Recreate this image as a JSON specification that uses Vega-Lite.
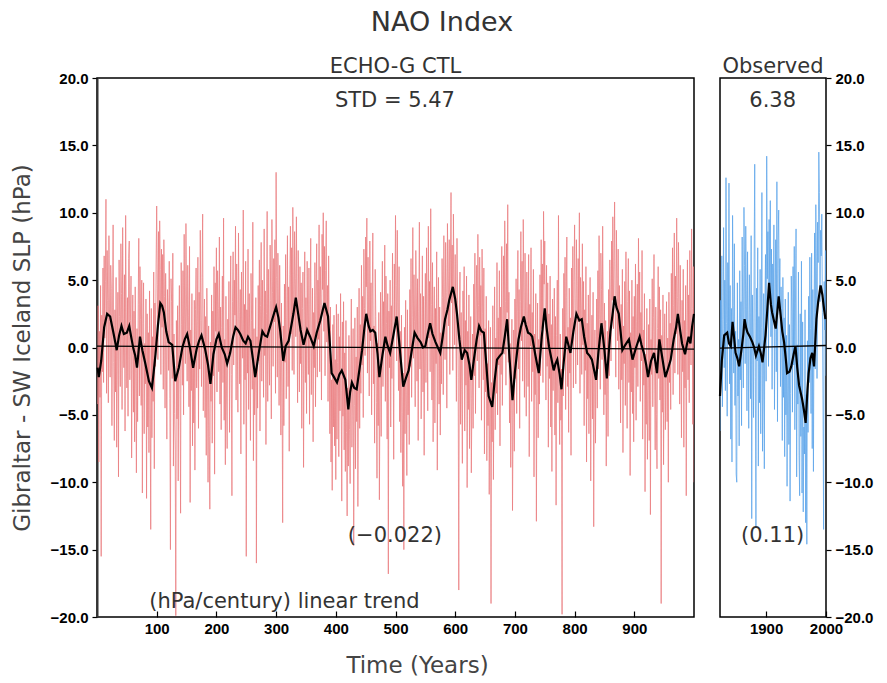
{
"$schema":"https://vega.github.io/schema/vega-lite/v6.json",
"background":"white",
"padding":{"left":10,"top":9,"right":5,"bottom":5},
"title":{"text":"NAO Index","fontSize":27,"offset":18,"anchor":"middle"},
"spacing":14,
"config":{"view":{"stroke":"black","strokeWidth":1.5},
"axis":{"grid":false,"labelFont":"Liberation Sans","labelFontWeight":"bold","labelFontSize":15,"labelColor":"black","tickColor":"black","tickWidth":1.2,"domain":false,"titleFont":"DejaVu Sans","titleFontWeight":"normal","titleFontSize":23,"titleColor":"#444"},
"title":{"font":"DejaVu Sans","fontWeight":"normal","color":"#333"}},
"datasets":{
"ctl":[{"t":1,"v":-4.2},{"t":2,"v":3.1},{"t":3,"v":-8.5},{"t":4,"v":1.2},{"t":5,"v":-3.7},{"t":6,"v":4.6},{"t":7,"v":-15.5},{"t":8,"v":2.4},{"t":9,"v":-1.8},{"t":10,"v":5.9},{"t":11,"v":-2.6},{"t":12,"v":6.8},{"t":13,"v":0.7},{"t":14,"v":4.9},{"t":15,"v":11.0},{"t":16,"v":-3.4},{"t":17,"v":7.2},{"t":18,"v":3.5},{"t":19,"v":-4.1},{"t":20,"v":8.3},{"t":21,"v":1.9},{"t":22,"v":-2.2},{"t":23,"v":6.1},{"t":24,"v":4.4},{"t":25,"v":-5.8},{"t":26,"v":3.0},{"t":27,"v":9.1},{"t":28,"v":-1.1},{"t":29,"v":-6.9},{"t":30,"v":2.8},{"t":31,"v":-3.3},{"t":32,"v":5.2},{"t":33,"v":-7.4},{"t":34,"v":0.4},{"t":35,"v":4.1},{"t":36,"v":-9.6},{"t":37,"v":6.5},{"t":38,"v":2.3},{"t":39,"v":-2.9},{"t":40,"v":7.7},{"t":41,"v":4.0},{"t":42,"v":-4.6},{"t":43,"v":8.9},{"t":44,"v":0.9},{"t":45,"v":-1.5},{"t":46,"v":5.4},{"t":47,"v":-6.2},{"t":48,"v":9.8},{"t":49,"v":1.6},{"t":50,"v":-3.0},
{"t":51,"v":3.7},{"t":52,"v":-5.1},{"t":53,"v":6.6},{"t":54,"v":7.9},{"t":55,"v":-2.4},{"t":56,"v":2.0},{"t":57,"v":5.3},{"t":58,"v":-8.2},{"t":59,"v":0.6},{"t":60,"v":3.9},{"t":61,"v":-4.8},{"t":62,"v":2.7},{"t":63,"v":-7.0},{"t":64,"v":4.5},{"t":65,"v":-1.9},{"t":66,"v":-9.3},{"t":67,"v":1.4},{"t":68,"v":-5.5},{"t":69,"v":3.2},{"t":70,"v":8.1},{"t":71,"v":-3.6},{"t":72,"v":6.0},{"t":73,"v":2.1},{"t":74,"v":-4.3},{"t":75,"v":5.0},{"t":76,"v":-10.8},{"t":77,"v":1.8},{"t":78,"v":4.8},{"t":79,"v":-6.4},{"t":80,"v":0.3},{"t":81,"v":-2.7},{"t":82,"v":3.6},{"t":83,"v":-11.2},{"t":84,"v":2.5},{"t":85,"v":-5.9},{"t":86,"v":1.1},{"t":87,"v":-7.8},{"t":88,"v":4.2},{"t":89,"v":-3.9},{"t":90,"v":-13.5},{"t":91,"v":2.9},{"t":92,"v":-6.7},{"t":93,"v":0.8},{"t":94,"v":-4.0},{"t":95,"v":5.6},{"t":96,"v":-9.0},{"t":97,"v":3.3},{"t":98,"v":-1.4},{"t":99,"v":6.2},{"t":100,"v":10.5},
{"t":101,"v":4.7},{"t":102,"v":-0.9},{"t":103,"v":8.6},{"t":104,"v":2.2},{"t":105,"v":9.4},{"t":106,"v":5.8},{"t":107,"v":-2.0},{"t":108,"v":7.3},{"t":109,"v":1.5},{"t":110,"v":6.9},{"t":111,"v":-3.1},{"t":112,"v":8.0},{"t":113,"v":3.8},{"t":114,"v":-4.5},{"t":115,"v":5.5},{"t":116,"v":0.2},{"t":117,"v":-6.8},{"t":118,"v":4.3},{"t":119,"v":2.6},{"t":120,"v":-1.7},{"t":121,"v":6.4},{"t":122,"v":-3.8},{"t":123,"v":-15.0},{"t":124,"v":5.1},{"t":125,"v":3.4},{"t":126,"v":-2.3},{"t":127,"v":7.0},{"t":128,"v":-8.8},{"t":129,"v":1.0},{"t":130,"v":-4.9},{"t":131,"v":-7.6},{"t":132,"v":-19.9},{"t":133,"v":2.0},{"t":134,"v":-5.3},{"t":135,"v":3.1},{"t":136,"v":-9.9},{"t":137,"v":0.5},{"t":138,"v":4.6},{"t":139,"v":-3.5},{"t":140,"v":-12.3},{"t":141,"v":6.3},{"t":142,"v":1.7},{"t":143,"v":-2.8},{"t":144,"v":5.7},{"t":145,"v":-5.0},{"t":146,"v":8.4},{"t":147,"v":0.9},{"t":148,"v":-1.2},{"t":149,"v":9.2},{"t":150,"v":3.0},
{"t":151,"v":-2.5},{"t":152,"v":6.1},{"t":153,"v":2.4},{"t":154,"v":-4.4},{"t":155,"v":7.5},{"t":156,"v":-11.5},{"t":157,"v":1.3},{"t":158,"v":-3.2},{"t":159,"v":4.0},{"t":160,"v":-7.3},{"t":161,"v":0.1},{"t":162,"v":-5.6},{"t":163,"v":3.5},{"t":164,"v":-9.1},{"t":165,"v":2.8},{"t":166,"v":5.9},{"t":167,"v":-3.0},{"t":168,"v":1.9},{"t":169,"v":6.7},{"t":170,"v":-6.0},{"t":171,"v":4.1},{"t":172,"v":-1.6},{"t":173,"v":8.7},{"t":174,"v":2.0},{"t":175,"v":-2.9},{"t":176,"v":5.2},{"t":177,"v":9.9},{"t":178,"v":-4.7},{"t":179,"v":0.7},{"t":180,"v":3.6},{"t":181,"v":-5.2},{"t":182,"v":2.3},{"t":183,"v":-8.0},{"t":184,"v":4.4},{"t":185,"v":-1.0},{"t":186,"v":-10.0},{"t":187,"v":1.6},{"t":188,"v":-6.6},{"t":189,"v":-12.0},{"t":190,"v":0.4},{"t":191,"v":-4.0},{"t":192,"v":3.9},{"t":193,"v":-7.1},{"t":194,"v":2.7},{"t":195,"v":-2.1},{"t":196,"v":6.0},{"t":197,"v":-9.4},{"t":198,"v":4.8},{"t":199,"v":1.2},{"t":200,"v":7.4},
{"t":201,"v":-3.3},{"t":202,"v":5.7},{"t":203,"v":2.9},{"t":204,"v":-1.8},{"t":205,"v":8.2},{"t":206,"v":-4.2},{"t":207,"v":3.0},{"t":208,"v":-6.1},{"t":209,"v":1.5},{"t":210,"v":5.3},{"t":211,"v":-2.6},{"t":212,"v":9.6},{"t":213,"v":-5.4},{"t":214,"v":0.6},{"t":215,"v":-8.7},{"t":216,"v":3.8},{"t":217,"v":-3.6},{"t":218,"v":-7.5},{"t":219,"v":2.1},{"t":220,"v":-0.5},{"t":221,"v":4.9},{"t":222,"v":-6.3},{"t":223,"v":1.0},{"t":224,"v":6.8},{"t":225,"v":-2.0},{"t":226,"v":-11.0},{"t":227,"v":3.4},{"t":228,"v":7.1},{"t":229,"v":-1.3},{"t":230,"v":5.0},{"t":231,"v":2.4},{"t":232,"v":9.0},{"t":233,"v":-3.9},{"t":234,"v":6.2},{"t":235,"v":0.9},{"t":236,"v":-4.8},{"t":237,"v":8.5},{"t":238,"v":2.6},{"t":239,"v":-2.7},{"t":240,"v":4.3},{"t":241,"v":-7.9},{"t":242,"v":5.6},{"t":243,"v":1.1},{"t":244,"v":-0.8},{"t":245,"v":10.2},{"t":246,"v":-5.7},{"t":247,"v":3.2},{"t":248,"v":-2.4},{"t":249,"v":6.4},{"t":250,"v":-15.5},
{"t":251,"v":2.8},{"t":252,"v":-1.9},{"t":253,"v":7.3},{"t":254,"v":-4.6},{"t":255,"v":4.0},{"t":256,"v":0.3},{"t":257,"v":-6.9},{"t":258,"v":5.5},{"t":259,"v":2.0},{"t":260,"v":-3.1},{"t":261,"v":9.3},{"t":262,"v":-8.4},{"t":263,"v":1.4},{"t":264,"v":-5.0},{"t":265,"v":-2.3},{"t":266,"v":3.7},{"t":267,"v":-16.0},{"t":268,"v":0.8},{"t":269,"v":-4.5},{"t":270,"v":4.6},{"t":271,"v":-1.0},{"t":272,"v":6.5},{"t":273,"v":-6.2},{"t":274,"v":3.1},{"t":275,"v":7.8},{"t":276,"v":-2.5},{"t":277,"v":5.0},{"t":278,"v":1.3},{"t":279,"v":-3.7},{"t":280,"v":8.8},{"t":281,"v":-0.6},{"t":282,"v":4.2},{"t":283,"v":-7.2},{"t":284,"v":2.5},{"t":285,"v":10.1},{"t":286,"v":-4.0},{"t":287,"v":5.8},{"t":288,"v":0.0},{"t":289,"v":-2.8},{"t":290,"v":7.6},{"t":291,"v":3.5},{"t":292,"v":-5.3},{"t":293,"v":9.5},{"t":294,"v":4.1},{"t":295,"v":-1.4},{"t":296,"v":6.6},{"t":297,"v":1.9},{"t":298,"v":8.0},{"t":299,"v":-3.4},{"t":300,"v":13.0},
{"t":301,"v":5.2},{"t":302,"v":-2.2},{"t":303,"v":7.0},{"t":304,"v":2.7},{"t":305,"v":-4.3},{"t":306,"v":6.1},{"t":307,"v":0.5},{"t":308,"v":-6.5},{"t":309,"v":3.3},{"t":310,"v":-3.0},{"t":311,"v":-13.0},{"t":312,"v":1.6},{"t":313,"v":-5.8},{"t":314,"v":4.7},{"t":315,"v":-1.1},{"t":316,"v":6.9},{"t":317,"v":-3.8},{"t":318,"v":2.2},{"t":319,"v":8.3},{"t":320,"v":-2.9},{"t":321,"v":4.5},{"t":322,"v":-7.7},{"t":323,"v":5.4},{"t":324,"v":9.0},{"t":325,"v":1.0},{"t":326,"v":7.4},{"t":327,"v":-1.7},{"t":328,"v":10.4},{"t":329,"v":3.9},{"t":330,"v":-2.0},{"t":331,"v":8.6},{"t":332,"v":5.1},{"t":333,"v":0.8},{"t":334,"v":9.7},{"t":335,"v":2.3},{"t":336,"v":-4.1},{"t":337,"v":7.2},{"t":338,"v":3.6},{"t":339,"v":-3.3},{"t":340,"v":6.0},{"t":341,"v":-1.2},{"t":342,"v":4.8},{"t":343,"v":-6.0},{"t":344,"v":2.9},{"t":345,"v":5.6},{"t":346,"v":-8.9},{"t":347,"v":1.8},{"t":348,"v":7.1},{"t":349,"v":-2.6},{"t":350,"v":3.7},
{"t":351,"v":-4.9},{"t":352,"v":6.4},{"t":353,"v":1.5},{"t":354,"v":-2.0},{"t":355,"v":5.9},{"t":356,"v":-5.7},{"t":357,"v":3.0},{"t":358,"v":8.1},{"t":359,"v":-3.5},{"t":360,"v":0.2},{"t":361,"v":4.4},{"t":362,"v":-7.0},{"t":363,"v":2.6},{"t":364,"v":-1.5},{"t":365,"v":6.3},{"t":366,"v":-4.4},{"t":367,"v":3.9},{"t":368,"v":7.7},{"t":369,"v":-2.2},{"t":370,"v":5.0},{"t":371,"v":0.6},{"t":372,"v":9.1},{"t":373,"v":-1.8},{"t":374,"v":6.0},{"t":375,"v":3.1},{"t":376,"v":-3.9},{"t":377,"v":8.4},{"t":378,"v":4.3},{"t":379,"v":10.0},{"t":380,"v":1.2},{"t":381,"v":7.5},{"t":382,"v":-2.1},{"t":383,"v":5.7},{"t":384,"v":9.4},{"t":385,"v":0.4},{"t":386,"v":4.6},{"t":387,"v":-4.0},{"t":388,"v":6.8},{"t":389,"v":1.0},{"t":390,"v":-6.4},{"t":391,"v":3.0},{"t":392,"v":-8.5},{"t":393,"v":-2.4},{"t":394,"v":-10.6},{"t":395,"v":1.7},{"t":396,"v":-5.9},{"t":397,"v":2.4},{"t":398,"v":-7.3},{"t":399,"v":-0.9},{"t":400,"v":-9.8},
{"t":401,"v":3.2},{"t":402,"v":-6.8},{"t":403,"v":-1.1},{"t":404,"v":2.5},{"t":405,"v":-8.1},{"t":406,"v":0.8},{"t":407,"v":-4.7},{"t":408,"v":4.0},{"t":409,"v":-3.2},{"t":410,"v":-11.4},{"t":411,"v":1.9},{"t":412,"v":-5.1},{"t":413,"v":3.4},{"t":414,"v":-7.6},{"t":415,"v":-0.4},{"t":416,"v":-9.2},{"t":417,"v":2.0},{"t":418,"v":-6.3},{"t":419,"v":-12.5},{"t":420,"v":-3.0},{"t":421,"v":-8.8},{"t":422,"v":0.9},{"t":423,"v":-6.1},{"t":424,"v":-10.1},{"t":425,"v":-1.6},{"t":426,"v":3.6},{"t":427,"v":-7.4},{"t":428,"v":-2.5},{"t":429,"v":1.4},{"t":430,"v":-14.7},{"t":431,"v":-4.3},{"t":432,"v":2.2},{"t":433,"v":-9.0},{"t":434,"v":-0.7},{"t":435,"v":-5.5},{"t":436,"v":3.0},{"t":437,"v":-11.8},{"t":438,"v":-2.0},{"t":439,"v":4.4},{"t":440,"v":-6.0},{"t":441,"v":1.7},{"t":442,"v":-3.4},{"t":443,"v":6.1},{"t":444,"v":-1.3},{"t":445,"v":3.8},{"t":446,"v":-5.2},{"t":447,"v":7.3},{"t":448,"v":2.9},{"t":449,"v":-0.6},{"t":450,"v":8.2},
{"t":451,"v":4.5},{"t":452,"v":9.6},{"t":453,"v":-1.9},{"t":454,"v":6.7},{"t":455,"v":2.1},{"t":456,"v":-3.6},{"t":457,"v":7.9},{"t":458,"v":0.5},{"t":459,"v":4.8},{"t":460,"v":-5.0},{"t":461,"v":3.3},{"t":462,"v":8.5},{"t":463,"v":-2.7},{"t":464,"v":1.6},{"t":465,"v":-7.1},{"t":466,"v":5.8},{"t":467,"v":2.3},{"t":468,"v":-4.1},{"t":469,"v":-9.7},{"t":470,"v":0.3},{"t":471,"v":-5.8},{"t":472,"v":2.6},{"t":473,"v":-11.3},{"t":474,"v":-3.1},{"t":475,"v":4.1},{"t":476,"v":-6.6},{"t":477,"v":1.0},{"t":478,"v":6.4},{"t":479,"v":-2.9},{"t":480,"v":3.4},{"t":481,"v":-0.2},{"t":482,"v":7.6},{"t":483,"v":-4.0},{"t":484,"v":5.3},{"t":485,"v":1.8},{"t":486,"v":-6.8},{"t":487,"v":4.0},{"t":488,"v":-16.8},{"t":489,"v":2.7},{"t":490,"v":-1.5},{"t":491,"v":5.0},{"t":492,"v":-5.9},{"t":493,"v":3.1},{"t":494,"v":-2.3},{"t":495,"v":7.0},{"t":496,"v":0.6},{"t":497,"v":-8.3},{"t":498,"v":6.2},{"t":499,"v":2.0},{"t":500,"v":9.8},
{"t":501,"v":4.6},{"t":502,"v":-1.0},{"t":503,"v":8.7},{"t":504,"v":3.0},{"t":505,"v":-3.2},{"t":506,"v":6.0},{"t":507,"v":-5.5},{"t":508,"v":1.2},{"t":509,"v":-7.8},{"t":510,"v":2.4},{"t":511,"v":-4.8},{"t":512,"v":-10.3},{"t":513,"v":-1.9},{"t":514,"v":-15.0},{"t":515,"v":1.5},{"t":516,"v":-6.4},{"t":517,"v":3.5},{"t":518,"v":-3.0},{"t":519,"v":-9.5},{"t":520,"v":2.8},{"t":521,"v":-5.0},{"t":522,"v":0.0},{"t":523,"v":-7.2},{"t":524,"v":4.3},{"t":525,"v":-1.4},{"t":526,"v":6.6},{"t":527,"v":-3.7},{"t":528,"v":2.2},{"t":529,"v":8.9},{"t":530,"v":-0.8},{"t":531,"v":5.4},{"t":532,"v":1.9},{"t":533,"v":-4.4},{"t":534,"v":7.2},{"t":535,"v":3.6},{"t":536,"v":-2.5},{"t":537,"v":5.1},{"t":538,"v":-6.9},{"t":539,"v":2.7},{"t":540,"v":9.3},{"t":541,"v":-1.6},{"t":542,"v":4.0},{"t":543,"v":-5.3},{"t":544,"v":0.4},{"t":545,"v":6.8},{"t":546,"v":-3.3},{"t":547,"v":3.8},{"t":548,"v":-8.0},{"t":549,"v":1.3},{"t":550,"v":5.5},
{"t":551,"v":-2.6},{"t":552,"v":7.4},{"t":553,"v":2.0},{"t":554,"v":-4.7},{"t":555,"v":9.0},{"t":556,"v":0.7},{"t":557,"v":4.9},{"t":558,"v":-1.8},{"t":559,"v":10.3},{"t":560,"v":3.2},{"t":561,"v":-3.9},{"t":562,"v":6.3},{"t":563,"v":-7.0},{"t":564,"v":1.4},{"t":565,"v":4.5},{"t":566,"v":-5.6},{"t":567,"v":2.9},{"t":568,"v":-1.2},{"t":569,"v":7.1},{"t":570,"v":-9.1},{"t":571,"v":0.8},{"t":572,"v":5.2},{"t":573,"v":-4.2},{"t":574,"v":3.0},{"t":575,"v":-6.5},{"t":576,"v":1.1},{"t":577,"v":-2.7},{"t":578,"v":6.6},{"t":579,"v":3.7},{"t":580,"v":-3.5},{"t":581,"v":8.3},{"t":582,"v":2.4},{"t":583,"v":-0.9},{"t":584,"v":7.8},{"t":585,"v":4.1},{"t":586,"v":-4.5},{"t":587,"v":9.2},{"t":588,"v":5.0},{"t":589,"v":1.6},{"t":590,"v":8.0},{"t":591,"v":-2.0},{"t":592,"v":6.5},{"t":593,"v":11.5},{"t":594,"v":3.3},{"t":595,"v":7.6},{"t":596,"v":-1.7},{"t":597,"v":9.9},{"t":598,"v":4.4},{"t":599,"v":0.2},{"t":600,"v":6.9},
{"t":601,"v":2.1},{"t":602,"v":-4.0},{"t":603,"v":8.1},{"t":604,"v":3.5},{"t":605,"v":-2.2},{"t":606,"v":-18.0},{"t":607,"v":1.9},{"t":608,"v":5.6},{"t":609,"v":-5.7},{"t":610,"v":2.6},{"t":611,"v":-3.1},{"t":612,"v":-8.6},{"t":613,"v":4.2},{"t":614,"v":-0.3},{"t":615,"v":6.0},{"t":616,"v":-6.2},{"t":617,"v":2.0},{"t":618,"v":-2.8},{"t":619,"v":5.3},{"t":620,"v":-10.4},{"t":621,"v":1.2},{"t":622,"v":-4.6},{"t":623,"v":3.9},{"t":624,"v":-7.5},{"t":625,"v":-1.5},{"t":626,"v":2.3},{"t":627,"v":-9.3},{"t":628,"v":-3.8},{"t":629,"v":1.0},{"t":630,"v":-6.0},{"t":631,"v":4.7},{"t":632,"v":-2.1},{"t":633,"v":7.0},{"t":634,"v":-4.9},{"t":635,"v":2.8},{"t":636,"v":6.1},{"t":637,"v":-1.0},{"t":638,"v":8.4},{"t":639,"v":3.1},{"t":640,"v":-3.0},{"t":641,"v":6.7},{"t":642,"v":0.9},{"t":643,"v":4.6},{"t":644,"v":-5.4},{"t":645,"v":7.3},{"t":646,"v":2.5},{"t":647,"v":-2.4},{"t":648,"v":5.9},{"t":649,"v":-7.9},{"t":650,"v":1.4},
{"t":651,"v":-3.3},{"t":652,"v":3.8},{"t":653,"v":-8.4},{"t":654,"v":-1.2},{"t":655,"v":-5.8},{"t":656,"v":2.0},{"t":657,"v":-10.9},{"t":658,"v":-4.1},{"t":659,"v":1.5},{"t":660,"v":-19.0},{"t":661,"v":-2.6},{"t":662,"v":-7.0},{"t":663,"v":3.1},{"t":664,"v":-9.8},{"t":665,"v":-1.9},{"t":666,"v":4.5},{"t":667,"v":-6.1},{"t":668,"v":0.7},{"t":669,"v":-3.4},{"t":670,"v":6.3},{"t":671,"v":-5.0},{"t":672,"v":2.2},{"t":673,"v":-1.3},{"t":674,"v":5.7},{"t":675,"v":-7.3},{"t":676,"v":3.0},{"t":677,"v":-2.0},{"t":678,"v":7.5},{"t":679,"v":-4.3},{"t":680,"v":1.6},{"t":681,"v":6.8},{"t":682,"v":-0.5},{"t":683,"v":9.4},{"t":684,"v":3.4},{"t":685,"v":-2.8},{"t":686,"v":7.7},{"t":687,"v":2.6},{"t":688,"v":10.6},{"t":689,"v":-1.1},{"t":690,"v":4.1},{"t":691,"v":-5.6},{"t":692,"v":0.3},{"t":693,"v":-8.9},{"t":694,"v":-3.0},{"t":695,"v":2.1},{"t":696,"v":-12.1},{"t":697,"v":-5.2},{"t":698,"v":1.3},{"t":699,"v":-7.7},{"t":700,"v":3.6},
{"t":701,"v":-2.3},{"t":702,"v":5.1},{"t":703,"v":-4.9},{"t":704,"v":2.7},{"t":705,"v":7.2},{"t":706,"v":-1.6},{"t":707,"v":4.3},{"t":708,"v":-6.0},{"t":709,"v":3.4},{"t":710,"v":8.6},{"t":711,"v":0.5},{"t":712,"v":6.4},{"t":713,"v":-2.5},{"t":714,"v":9.5},{"t":715,"v":3.9},{"t":716,"v":-3.7},{"t":717,"v":7.0},{"t":718,"v":1.8},{"t":719,"v":-5.1},{"t":720,"v":5.6},{"t":721,"v":2.0},{"t":722,"v":-2.9},{"t":723,"v":6.9},{"t":724,"v":-8.1},{"t":725,"v":3.2},{"t":726,"v":0.1},{"t":727,"v":7.4},{"t":728,"v":-4.0},{"t":729,"v":2.6},{"t":730,"v":-1.8},{"t":731,"v":5.8},{"t":732,"v":-9.6},{"t":733,"v":1.0},{"t":734,"v":-3.5},{"t":735,"v":4.0},{"t":736,"v":-12.9},{"t":737,"v":-0.7},{"t":738,"v":3.3},{"t":739,"v":-6.7},{"t":740,"v":0.6},{"t":741,"v":-4.2},{"t":742,"v":5.4},{"t":743,"v":-2.1},{"t":744,"v":8.0},{"t":745,"v":1.4},{"t":746,"v":6.2},{"t":747,"v":-2.6},{"t":748,"v":10.1},{"t":749,"v":4.7},{"t":750,"v":7.9},
{"t":751,"v":1.1},{"t":752,"v":-3.9},{"t":753,"v":6.1},{"t":754,"v":-1.4},{"t":755,"v":4.8},{"t":756,"v":-7.4},{"t":757,"v":2.5},{"t":758,"v":-2.3},{"t":759,"v":5.3},{"t":760,"v":-5.9},{"t":761,"v":1.7},{"t":762,"v":-9.2},{"t":763,"v":3.6},{"t":764,"v":-3.2},{"t":765,"v":-0.4},{"t":766,"v":4.4},{"t":767,"v":-6.5},{"t":768,"v":2.3},{"t":769,"v":-11.7},{"t":770,"v":0.9},{"t":771,"v":5.0},{"t":772,"v":-4.1},{"t":773,"v":9.8},{"t":774,"v":-2.4},{"t":775,"v":-7.2},{"t":776,"v":1.0},{"t":777,"v":-5.4},{"t":778,"v":-1.6},{"t":779,"v":-19.8},{"t":780,"v":2.9},{"t":781,"v":-3.6},{"t":782,"v":5.5},{"t":783,"v":-0.2},{"t":784,"v":6.7},{"t":785,"v":-4.6},{"t":786,"v":3.7},{"t":787,"v":8.2},{"t":788,"v":-2.9},{"t":789,"v":1.5},{"t":790,"v":-6.3},{"t":791,"v":4.4},{"t":792,"v":-1.9},{"t":793,"v":2.2},{"t":794,"v":-8.0},{"t":795,"v":5.9},{"t":796,"v":0.6},{"t":797,"v":7.5},{"t":798,"v":-3.0},{"t":799,"v":4.9},{"t":800,"v":9.1},
{"t":801,"v":2.4},{"t":802,"v":-2.7},{"t":803,"v":8.0},{"t":804,"v":4.6},{"t":805,"v":-1.3},{"t":806,"v":6.6},{"t":807,"v":1.9},{"t":808,"v":10.0},{"t":809,"v":-3.4},{"t":810,"v":5.2},{"t":811,"v":3.0},{"t":812,"v":-2.0},{"t":813,"v":7.7},{"t":814,"v":0.2},{"t":815,"v":4.9},{"t":816,"v":-5.8},{"t":817,"v":2.8},{"t":818,"v":-1.7},{"t":819,"v":6.0},{"t":820,"v":-8.5},{"t":821,"v":1.8},{"t":822,"v":-3.8},{"t":823,"v":3.9},{"t":824,"v":-6.4},{"t":825,"v":0.7},{"t":826,"v":5.2},{"t":827,"v":-9.9},{"t":828,"v":-1.1},{"t":829,"v":2.4},{"t":830,"v":-5.3},{"t":831,"v":4.1},{"t":832,"v":-13.3},{"t":833,"v":-2.5},{"t":834,"v":1.3},{"t":835,"v":-7.1},{"t":836,"v":-0.6},{"t":837,"v":3.6},{"t":838,"v":-4.5},{"t":839,"v":5.7},{"t":840,"v":-1.6},{"t":841,"v":8.3},{"t":842,"v":2.1},{"t":843,"v":-3.1},{"t":844,"v":7.0},{"t":845,"v":4.3},{"t":846,"v":-0.9},{"t":847,"v":9.0},{"t":848,"v":1.5},{"t":849,"v":-5.0},{"t":850,"v":3.3},
{"t":851,"v":-3.5},{"t":852,"v":2.0},{"t":853,"v":-8.8},{"t":854,"v":-1.3},{"t":855,"v":1.2},{"t":856,"v":-6.6},{"t":857,"v":4.3},{"t":858,"v":-2.1},{"t":859,"v":6.5},{"t":860,"v":2.7},{"t":861,"v":-1.0},{"t":862,"v":7.9},{"t":863,"v":3.5},{"t":864,"v":9.7},{"t":865,"v":1.4},{"t":866,"v":6.4},{"t":867,"v":10.8},{"t":868,"v":3.0},{"t":869,"v":-2.2},{"t":870,"v":8.7},{"t":871,"v":5.1},{"t":872,"v":0.5},{"t":873,"v":7.3},{"t":874,"v":-3.1},{"t":875,"v":4.6},{"t":876,"v":1.9},{"t":877,"v":-5.6},{"t":878,"v":3.2},{"t":879,"v":-2.4},{"t":880,"v":5.8},{"t":881,"v":-7.8},{"t":882,"v":1.6},{"t":883,"v":-1.2},{"t":884,"v":4.9},{"t":885,"v":-4.3},{"t":886,"v":7.1},{"t":887,"v":0.0},{"t":888,"v":-6.0},{"t":889,"v":3.4},{"t":890,"v":6.6},{"t":891,"v":-2.6},{"t":892,"v":4.2},{"t":893,"v":-9.5},{"t":894,"v":1.1},{"t":895,"v":-3.3},{"t":896,"v":5.0},{"t":897,"v":-4.9},{"t":898,"v":2.3},{"t":899,"v":-7.0},{"t":900,"v":3.8},
{"t":901,"v":-1.5},{"t":902,"v":6.2},{"t":903,"v":-5.4},{"t":904,"v":1.9},{"t":905,"v":4.7},{"t":906,"v":-2.9},{"t":907,"v":8.1},{"t":908,"v":0.4},{"t":909,"v":5.6},{"t":910,"v":-4.0},{"t":911,"v":2.6},{"t":912,"v":-1.0},{"t":913,"v":7.2},{"t":914,"v":-6.8},{"t":915,"v":1.3},{"t":916,"v":-2.8},{"t":917,"v":4.0},{"t":918,"v":-10.7},{"t":919,"v":-0.5},{"t":920,"v":-5.7},{"t":921,"v":2.9},{"t":922,"v":-8.3},{"t":923,"v":-3.2},{"t":924,"v":1.7},{"t":925,"v":-6.9},{"t":926,"v":3.6},{"t":927,"v":-12.4},{"t":928,"v":0.6},{"t":929,"v":-2.0},{"t":930,"v":5.1},{"t":931,"v":-4.4},{"t":932,"v":2.2},{"t":933,"v":6.9},{"t":934,"v":-1.7},{"t":935,"v":-7.6},{"t":936,"v":3.0},{"t":937,"v":-5.0},{"t":938,"v":-9.0},{"t":939,"v":1.4},{"t":940,"v":6.0},{"t":941,"v":-2.3},{"t":942,"v":4.5},{"t":943,"v":-3.9},{"t":944,"v":2.8},{"t":945,"v":-19.0},{"t":946,"v":0.9},{"t":947,"v":-4.8},{"t":948,"v":3.9},{"t":949,"v":-8.7},{"t":950,"v":-1.4},
{"t":951,"v":2.5},{"t":952,"v":-6.1},{"t":953,"v":-1.0},{"t":954,"v":3.4},{"t":955,"v":-5.5},{"t":956,"v":0.7},{"t":957,"v":-10.0},{"t":958,"v":4.1},{"t":959,"v":-2.6},{"t":960,"v":1.8},{"t":961,"v":-4.6},{"t":962,"v":5.5},{"t":963,"v":-0.3},{"t":964,"v":7.4},{"t":965,"v":-3.5},{"t":966,"v":3.1},{"t":967,"v":8.5},{"t":968,"v":-1.9},{"t":969,"v":5.3},{"t":970,"v":1.0},{"t":971,"v":9.6},{"t":972,"v":3.7},{"t":973,"v":-2.0},{"t":974,"v":7.8},{"t":975,"v":4.0},{"t":976,"v":-4.2},{"t":977,"v":6.1},{"t":978,"v":0.2},{"t":979,"v":-6.7},{"t":980,"v":3.5},{"t":981,"v":-1.8},{"t":982,"v":5.8},{"t":983,"v":-7.4},{"t":984,"v":2.0},{"t":985,"v":-3.0},{"t":986,"v":4.6},{"t":987,"v":-11.0},{"t":988,"v":1.2},{"t":989,"v":6.5},{"t":990,"v":-2.4},{"t":991,"v":3.9},{"t":992,"v":-4.1},{"t":993,"v":7.2},{"t":994,"v":1.6},{"t":995,"v":-1.3},{"t":996,"v":8.8},{"t":997,"v":2.9},{"t":998,"v":-5.7},{"t":999,"v":6.0},{"t":1000,"v":-10.0}],
"ctls":[{"t":1,"v":-1.5},{"t":3,"v":-2.2},{"t":7,"v":-1.0},{"t":12,"v":1.5},{"t":17,"v":2.5},{"t":22,"v":2.3},{"t":27,"v":1.2},{"t":31,"v":0.3},{"t":33,"v":-0.2},{"t":37,"v":0.9},{"t":41,"v":1.6},{"t":45,"v":1.0},{"t":50,"v":1.1},{"t":54,"v":1.6},{"t":58,"v":0.6},{"t":61,"v":-0.1},{"t":64,"v":-0.6},{"t":67,"v":-1.5},{"t":72,"v":0.8},{"t":76,"v":-0.2},{"t":81,"v":-1.2},{"t":87,"v":-2.5},{"t":92,"v":-3.0},{"t":95,"v":-1.8},{"t":98,"v":-0.5},{"t":102,"v":1.6},{"t":106,"v":3.3},{"t":109,"v":3.1},{"t":112,"v":2.6},{"t":116,"v":1.2},{"t":120,"v":0.4},{"t":126,"v":0.2},{"t":131,"v":-2.5},{"t":137,"v":-1.5},{"t":143,"v":0.0},{"t":147,"v":0.6},{"t":151,"v":1.0},{"t":156,"v":-0.1},{"t":161,"v":-1.5},{"t":167,"v":-0.1},{"t":171,"v":0.5},{"t":175,"v":0.9},{"t":181,"v":-0.1},{"t":186,"v":-1.3},{"t":190,"v":-2.7},{"t":195,"v":-0.5},{"t":200,"v":0.6},{"t":204,"v":1.0},{"t":209,"v":0.0},{"t":214,"v":-0.5},{"t":218,"v":-1.2},{"t":223,"v":-0.4},{"t":228,"v":0.8},{"t":232,"v":1.5},{"t":236,"v":1.3},{"t":240,"v":1.0},{"t":245,"v":0.5},{"t":249,"v":0.3},{"t":253,"v":0.8},{"t":257,"v":0.5},{"t":261,"v":-0.8},{"t":265,"v":-2.2},{"t":271,"v":-0.4},{"t":277,"v":1.2},{"t":281,"v":0.9},{"t":285,"v":0.8},{"t":289,"v":1.4},{"t":293,"v":2.0},{"t":297,"v":2.6},{"t":300,"v":3.0},{"t":304,"v":2.2},{"t":307,"v":1.2},{"t":312,"v":-1.0},{"t":316,"v":0.1},{"t":321,"v":0.5},{"t":325,"v":1.5},{"t":329,"v":2.5},{"t":333,"v":3.7},{"t":337,"v":2.5},{"t":341,"v":1.3},{"t":346,"v":0.2},{"t":352,"v":1.3},{"t":357,"v":0.8},{"t":363,"v":0.1},{"t":368,"v":1.1},{"t":374,"v":2.0},{"t":381,"v":3.3},{"t":387,"v":2.3},{"t":390,"v":0.3},{"t":393,"v":-1.9},{"t":397,"v":-2.2},{"t":402,"v":-2.6},{"t":406,"v":-2.0},{"t":410,"v":-1.7},{"t":416,"v":-2.4},{"t":421,"v":-4.6},{"t":424,"v":-3.3},{"t":427,"v":-2.6},{"t":431,"v":-3.0},{"t":435,"v":-3.1},{"t":440,"v":-1.5},{"t":444,"v":-0.2},{"t":448,"v":1.5},{"t":451,"v":2.5},{"t":455,"v":1.6},{"t":458,"v":1.2},{"t":462,"v":1.3},{"t":466,"v":1.1},{"t":470,"v":-0.5},{"t":473,"v":-2.2},{"t":478,"v":-0.6},{"t":483,"v":0.8},{"t":487,"v":0.1},{"t":491,"v":-0.4},{"t":496,"v":0.8},{"t":502,"v":2.3},{"t":506,"v":0.5},{"t":510,"v":-1.5},{"t":513,"v":-2.9},{"t":518,"v":-2.2},{"t":522,"v":-1.7},{"t":527,"v":-0.3},{"t":532,"v":1.1},{"t":537,"v":0.7},{"t":542,"v":0.4},{"t":546,"v":0.0},{"t":550,"v":0.1},{"t":554,"v":1.0},{"t":558,"v":1.8},{"t":562,"v":1.0},{"t":567,"v":0.4},{"t":571,"v":0.0},{"t":575,"v":-0.4},{"t":579,"v":0.8},{"t":583,"v":2.1},{"t":587,"v":2.8},{"t":590,"v":3.5},{"t":596,"v":4.5},{"t":600,"v":3.6},{"t":603,"v":2.5},{"t":607,"v":0.6},{"t":611,"v":-0.9},{"t":616,"v":-0.2},{"t":620,"v":-0.4},{"t":624,"v":-1.3},{"t":627,"v":-2.4},{"t":631,"v":-1.0},{"t":636,"v":0.6},{"t":640,"v":1.6},{"t":644,"v":1.2},{"t":648,"v":1.1},{"t":652,"v":-1.2},{"t":656,"v":-3.6},{"t":662,"v":-4.4},{"t":666,"v":-2.5},{"t":670,"v":-0.9},{"t":675,"v":-0.6},{"t":679,"v":-0.4},{"t":683,"v":0.8},{"t":687,"v":2.1},{"t":691,"v":-0.8},{"t":696,"v":-3.9},{"t":700,"v":-1.8},{"t":706,"v":0.6},{"t":710,"v":1.5},{"t":715,"v":2.3},{"t":718,"v":1.7},{"t":722,"v":1.1},{"t":726,"v":1.0},{"t":729,"v":0.8},{"t":734,"v":-0.5},{"t":740,"v":-1.9},{"t":745,"v":0.8},{"t":750,"v":2.9},{"t":753,"v":1.5},{"t":757,"v":0.1},{"t":761,"v":-0.8},{"t":765,"v":-1.7},{"t":768,"v":-1.2},{"t":771,"v":-0.9},{"t":775,"v":-2.0},{"t":778,"v":-3.1},{"t":782,"v":-1.0},{"t":786,"v":0.8},{"t":789,"v":0.3},{"t":793,"v":-0.4},{"t":798,"v":1.2},{"t":803,"v":2.5},{"t":808,"v":2.0},{"t":812,"v":2.1},{"t":816,"v":0.8},{"t":821,"v":-0.4},{"t":825,"v":-0.6},{"t":829,"v":-0.9},{"t":836,"v":-2.4},{"t":840,"v":-0.3},{"t":845,"v":1.8},{"t":850,"v":-0.2},{"t":854,"v":-2.3},{"t":857,"v":-0.5},{"t":860,"v":1.2},{"t":864,"v":2.6},{"t":867,"v":3.8},{"t":870,"v":3.0},{"t":874,"v":2.5},{"t":877,"v":1.2},{"t":880,"v":-0.2},{"t":885,"v":0.2},{"t":891,"v":0.6},{"t":897,"v":-0.9},{"t":903,"v":0.0},{"t":909,"v":0.8},{"t":912,"v":0.2},{"t":916,"v":-0.4},{"t":920,"v":-1.3},{"t":923,"v":-2.2},{"t":928,"v":-1.0},{"t":933,"v":-0.4},{"t":938,"v":-1.9},{"t":942,"v":0.6},{"t":947,"v":-0.8},{"t":952,"v":-2.2},{"t":957,"v":-1.5},{"t":961,"v":-0.9},{"t":966,"v":0.6},{"t":970,"v":1.5},{"t":973,"v":2.5},{"t":977,"v":1.2},{"t":980,"v":0.3},{"t":985,"v":-0.5},{"t":988,"v":0.2},{"t":991,"v":0.8},{"t":994,"v":0.3},{"t":997,"v":1.6},{"t":1000,"v":2.5}],
"ctlt":[{"t":0,"v":0.1},{"t":1000,"v":-0.12}],
"ctln":[{"t":499,"v":18.3,"note":"STD = 5.47"},{"t":499,"v":-14,"note":"(−0.022)"},{"t":314,"v":-18.9,"note":"(hPa/century) linear trend"}],
"obs":[{"t":1823,"v":-6.2},{"t":1824,"v":3.5},{"t":1825,"v":-2.0},{"t":1826,"v":6.8},{"t":1827,"v":-4.4},{"t":1828,"v":2.1},{"t":1829,"v":8.9},{"t":1830,"v":-1.5},{"t":1831,"v":5.0},{"t":1832,"v":-3.2},{"t":1833,"v":12.6},{"t":1834,"v":1.8},{"t":1835,"v":-5.1},{"t":1836,"v":6.3},{"t":1837,"v":0.4},{"t":1838,"v":12.2},{"t":1839,"v":-2.7},{"t":1840,"v":4.6},{"t":1841,"v":-6.8},{"t":1842,"v":2.9},{"t":1843,"v":-8.5},{"t":1844,"v":9.8},{"t":1845,"v":3.1},{"t":1846,"v":-1.9},{"t":1847,"v":7.7},{"t":1848,"v":-4.3},{"t":1849,"v":1.2},{"t":1850,"v":-9.4},{"t":1851,"v":-10.0},{"t":1852,"v":4.8},{"t":1853,"v":-3.6},{"t":1854,"v":0.6},{"t":1855,"v":-7.3},{"t":1856,"v":5.7},{"t":1857,"v":-2.4},{"t":1858,"v":3.4},{"t":1859,"v":-5.8},{"t":1860,"v":8.2},{"t":1861,"v":2.0},{"t":1862,"v":-3.0},{"t":1863,"v":10.4},{"t":1864,"v":6.1},{"t":1865,"v":-1.2},{"t":1866,"v":9.0},{"t":1867,"v":4.2},{"t":1868,"v":-4.7},{"t":1869,"v":7.1},{"t":1870,"v":1.0},{"t":1871,"v":-6.0},{"t":1872,"v":5.4},{"t":1873,"v":2.6},{"t":1874,"v":-3.8},{"t":1875,"v":8.3},{"t":1876,"v":-12.7},{"t":1877,"v":3.9},{"t":1878,"v":0.3},{"t":1879,"v":-5.2},{"t":1880,"v":6.5},{"t":1881,"v":13.6},{"t":1882,"v":-2.2},{"t":1883,"v":-13.4},{"t":1884,"v":4.4},{"t":1885,"v":-1.0},{"t":1886,"v":7.4},{"t":1887,"v":-8.8},{"t":1888,"v":2.3},{"t":1889,"v":-4.1},{"t":1890,"v":5.8},{"t":1891,"v":-6.4},{"t":1892,"v":1.5},{"t":1893,"v":11.5},{"t":1894,"v":-7.7},{"t":1895,"v":-3.3},{"t":1896,"v":4.0},{"t":1897,"v":-9.0},{"t":1898,"v":3.2},{"t":1899,"v":6.9},{"t":1900,"v":-2.5},{"t":1901,"v":14.2},{"t":1902,"v":5.1},{"t":1903,"v":8.6},{"t":1904,"v":-1.4},{"t":1905,"v":9.5},{"t":1906,"v":4.7},{"t":1907,"v":10.9},{"t":1908,"v":0.8},{"t":1909,"v":7.3},{"t":1910,"v":-3.1},{"t":1911,"v":6.2},{"t":1912,"v":2.4},{"t":1913,"v":9.1},{"t":1914,"v":-4.6},{"t":1915,"v":3.7},{"t":1916,"v":8.0},{"t":1917,"v":-1.8},{"t":1918,"v":12.3},{"t":1919,"v":-5.5},{"t":1920,"v":7.9},{"t":1921,"v":10.2},{"t":1922,"v":3.0},{"t":1923,"v":6.6},{"t":1924,"v":-2.9},{"t":1925,"v":4.5},{"t":1926,"v":1.1},{"t":1927,"v":-6.9},{"t":1928,"v":5.2},{"t":1929,"v":-3.7},{"t":1930,"v":2.2},{"t":1931,"v":-8.1},{"t":1932,"v":3.6},{"t":1933,"v":-5.0},{"t":1934,"v":0.9},{"t":1935,"v":-10.3},{"t":1936,"v":-2.0},{"t":1937,"v":4.1},{"t":1938,"v":-7.2},{"t":1939,"v":1.7},{"t":1940,"v":-11.4},{"t":1941,"v":-3.4},{"t":1942,"v":5.3},{"t":1943,"v":2.7},{"t":1944,"v":-4.8},{"t":1945,"v":6.0},{"t":1946,"v":-1.3},{"t":1947,"v":7.5},{"t":1948,"v":-6.1},{"t":1949,"v":3.3},{"t":1950,"v":8.8},{"t":1951,"v":-9.6},{"t":1952,"v":0.2},{"t":1953,"v":-4.2},{"t":1954,"v":5.6},{"t":1955,"v":-8.0},{"t":1956,"v":-11.0},{"t":1957,"v":2.5},{"t":1958,"v":-6.6},{"t":1959,"v":6.4},{"t":1960,"v":-10.8},{"t":1961,"v":1.9},{"t":1962,"v":-12.2},{"t":1963,"v":-5.9},{"t":1964,"v":-7.9},{"t":1965,"v":2.8},{"t":1966,"v":-13.0},{"t":1967,"v":-3.5},{"t":1968,"v":-14.6},{"t":1969,"v":0.5},{"t":1970,"v":-6.3},{"t":1971,"v":3.8},{"t":1972,"v":-2.6},{"t":1973,"v":6.7},{"t":1974,"v":1.4},{"t":1975,"v":-4.9},{"t":1976,"v":7.0},{"t":1977,"v":-7.5},{"t":1978,"v":4.3},{"t":1979,"v":-9.2},{"t":1980,"v":2.0},{"t":1981,"v":8.5},{"t":1982,"v":-1.6},{"t":1983,"v":10.6},{"t":1984,"v":5.9},{"t":1985,"v":-2.3},{"t":1986,"v":9.3},{"t":1987,"v":6.3},{"t":1988,"v":14.5},{"t":1989,"v":11.5},{"t":1990,"v":3.4},{"t":1991,"v":8.7},{"t":1992,"v":6.8},{"t":1993,"v":9.9},{"t":1994,"v":2.6},{"t":1995,"v":-3.9},{"t":1996,"v":-13.5},{"t":1997,"v":4.9},{"t":1998,"v":1.3},{"t":1999,"v":7.2},{"t":2000,"v":-2.1}],
"obss":[{"t":1823,"v":-3.6},{"t":1826,"v":-1.0},{"t":1830,"v":0.9},{"t":1835,"v":1.1},{"t":1838,"v":0.3},{"t":1841,"v":0.1},{"t":1844,"v":1.9},{"t":1847,"v":0.5},{"t":1849,"v":-0.4},{"t":1852,"v":-0.8},{"t":1855,"v":-1.4},{"t":1859,"v":-0.1},{"t":1862,"v":1.0},{"t":1864,"v":2.1},{"t":1867,"v":1.4},{"t":1869,"v":1.1},{"t":1873,"v":0.8},{"t":1877,"v":0.4},{"t":1880,"v":0.0},{"t":1883,"v":-0.6},{"t":1888,"v":0.1},{"t":1891,"v":-0.4},{"t":1894,"v":-1.1},{"t":1899,"v":0.9},{"t":1902,"v":2.8},{"t":1905,"v":4.8},{"t":1908,"v":3.2},{"t":1910,"v":2.6},{"t":1913,"v":2.0},{"t":1916,"v":1.4},{"t":1919,"v":2.8},{"t":1921,"v":3.8},{"t":1924,"v":2.5},{"t":1927,"v":1.2},{"t":1930,"v":0.4},{"t":1933,"v":-0.9},{"t":1935,"v":-1.9},{"t":1939,"v":-1.8},{"t":1942,"v":-1.4},{"t":1946,"v":-0.5},{"t":1949,"v":0.1},{"t":1952,"v":-1.5},{"t":1955,"v":-2.8},{"t":1960,"v":-3.8},{"t":1963,"v":-4.6},{"t":1966,"v":-5.6},{"t":1969,"v":-3.2},{"t":1971,"v":-1.9},{"t":1974,"v":-0.8},{"t":1977,"v":-0.4},{"t":1980,"v":-1.4},{"t":1982,"v":0.3},{"t":1984,"v":2.1},{"t":1987,"v":3.4},{"t":1991,"v":4.6},{"t":1994,"v":3.9},{"t":1996,"v":3.1},{"t":1999,"v":2.1}],
"obst":[{"t":1823,"v":-0.05},{"t":2000,"v":0.15}],
"obsn":[{"t":1911,"v":18.3,"note":"6.38"},{"t":1911,"v":-14,"note":"(0.11)"}]
},
"hconcat":[
{"width":597,"height":539,
"title":{"text":"ECHO-G CTL","fontSize":21,"offset":-6,"frame":"group"},
"encoding":{
"x":{"field":"t","type":"quantitative","scale":{"domain":[0,1000],"nice":false,"zero":false},
"axis":{"values":[100,200,300,400,500,600,700,800,900],"format":"d","tickSize":-6,"labelPadding":10,"labelFlush":false,"title":"Time (Years)","titlePadding":18,"titleX":320}},
"y":{"field":"v","type":"quantitative","scale":{"domain":[-20,20],"nice":false,"zero":false},
"axis":{"values":[-20,-15,-10,-5,0,5,10,15,20],"format":".1f","tickSize":5,"labelPadding":4,"labelFlush":false,"title":"Gibraltar - SW Iceland SLP (hPa)","titlePadding":16,"domain":true,"domainWidth":2,"domainColor":"#333"}}},
"layer":[
{"data":{"name":"ctl"},"mark":{"type":"line","color":"#ea7b7e","strokeWidth":0.75,"clip":true}},
{"data":{"name":"ctls"},"mark":{"type":"line","color":"black","strokeWidth":2.2}},
{"data":{"name":"ctlt"},"mark":{"type":"line","color":"black","strokeWidth":1.3}},
{"data":{"name":"ctln"},"mark":{"type":"text","font":"DejaVu Sans","fontSize":21,"color":"#333"},"encoding":{"text":{"field":"note","type":"nominal"}}}
]},
{"width":106,"height":539,
"title":{"text":"Observed","fontSize":21,"offset":-6,"frame":"group"},
"encoding":{
"x":{"field":"t","type":"quantitative","scale":{"domain":[1823,2000],"nice":false,"zero":false},
"axis":{"values":[1900,2000],"format":"d","tickSize":-6,"labelPadding":10,"labelFlush":false,"title":null}},
"y":{"field":"v","type":"quantitative","scale":{"domain":[-20,20],"nice":false,"zero":false},
"axis":{"orient":"right","values":[-20,-15,-10,-5,0,5,10,15,20],"format":".1f","tickSize":5,"labelPadding":4,"labelFlush":false,"title":null}}},
"layer":[
{"data":{"name":"obs"},"mark":{"type":"line","color":"#5aa3ea","strokeWidth":0.75,"clip":true}},
{"data":{"name":"obss"},"mark":{"type":"line","color":"black","strokeWidth":2.2}},
{"data":{"name":"obst"},"mark":{"type":"line","color":"black","strokeWidth":1.3}},
{"data":{"name":"obsn"},"mark":{"type":"text","font":"DejaVu Sans","fontSize":21,"color":"#333"},"encoding":{"text":{"field":"note","type":"nominal"}}}
]}
]
}
